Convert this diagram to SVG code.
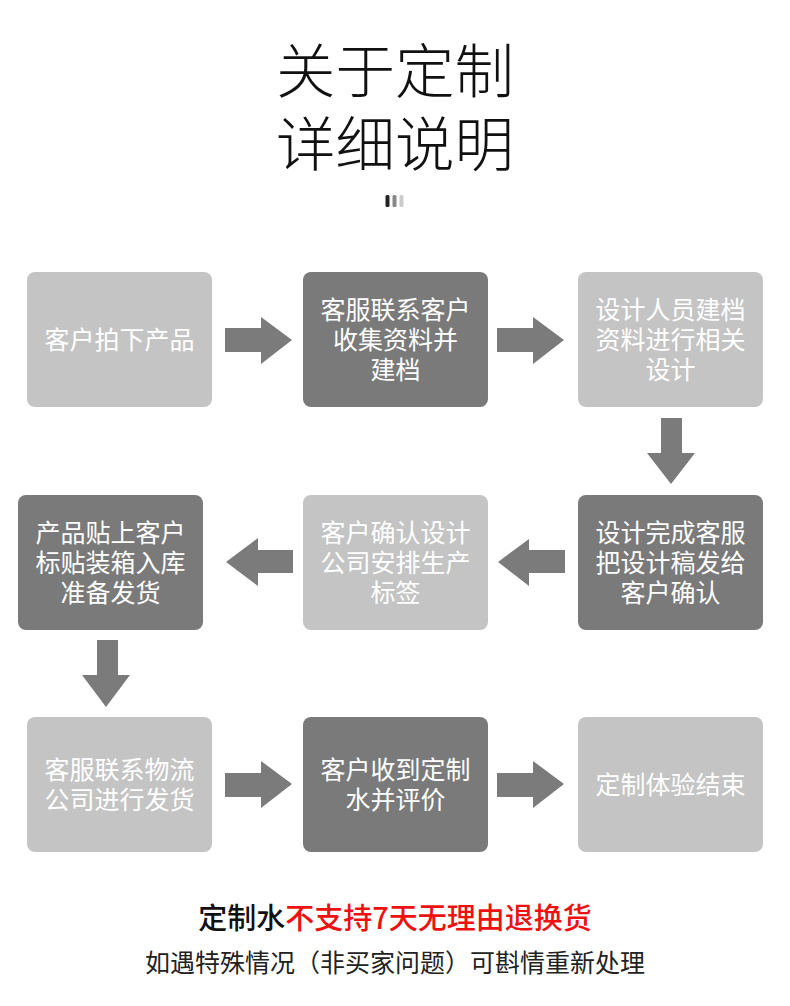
<svg xmlns="http://www.w3.org/2000/svg" width="790" height="1006" viewBox="0 0 790 1006">
<style>
.light{fill:#c4c4c4}
.dark{fill:#7a7a7a}
.arr{fill:#7b7b7b}
.t{font-family:"Noto Sans CJK SC","Noto Sans",sans-serif;font-size:25px;fill:#ffffff;text-anchor:middle}
.title{font-family:"Noto Sans CJK SC","Noto Sans",sans-serif;font-size:59.5px;font-weight:300;fill:#111111;text-anchor:middle}
</style>
<rect width="790" height="1006" fill="#ffffff"/>
<g id="title">
<text class="title" x="395" y="93">关于定制</text>
<text class="title" x="395" y="166">详细说明</text>
<rect x="385.5" y="195" width="4" height="12" rx="1.5" fill="#222222"/>
<rect x="392.5" y="195" width="4" height="12" rx="1.5" fill="#888888"/>
<rect x="399.5" y="195" width="4" height="12" rx="1.5" fill="#cccccc"/>
</g>
<g id="n1"><rect class="light" x="27" y="272" width="185" height="135" rx="8"/><text class="t" x="119.5" y="349">客户拍下产品</text></g>
<g id="n2"><rect class="dark" x="303" y="272" width="185" height="135" rx="8"/><text class="t" x="395.5" y="319">客服联系客户</text><text class="t" x="395.5" y="349">收集资料并</text><text class="t" x="395.5" y="379">建档</text></g>
<g id="n3"><rect class="light" x="578" y="272" width="185" height="135" rx="8"/><text class="t" x="670.5" y="319">设计人员建档</text><text class="t" x="670.5" y="349">资料进行相关</text><text class="t" x="670.5" y="379">设计</text></g>
<g id="n4"><rect class="dark" x="578" y="495" width="185" height="135" rx="8"/><text class="t" x="670.5" y="542">设计完成客服</text><text class="t" x="670.5" y="572">把设计稿发给</text><text class="t" x="670.5" y="602">客户确认</text></g>
<g id="n5"><rect class="light" x="303" y="495" width="185" height="135" rx="8"/><text class="t" x="395.5" y="542">客户确认设计</text><text class="t" x="395.5" y="572">公司安排生产</text><text class="t" x="395.5" y="602">标签</text></g>
<g id="n6"><rect class="dark" x="18" y="495" width="185" height="135" rx="8"/><text class="t" x="110.5" y="542">产品贴上客户</text><text class="t" x="110.5" y="572">标贴装箱入库</text><text class="t" x="110.5" y="602">准备发货</text></g>
<g id="n7"><rect class="light" x="27" y="717" width="185" height="135" rx="8"/><text class="t" x="119.5" y="779">客服联系物流</text><text class="t" x="119.5" y="809">公司进行发货</text></g>
<g id="n8"><rect class="dark" x="303" y="717" width="185" height="135" rx="8"/><text class="t" x="395.5" y="779">客户收到定制</text><text class="t" x="395.5" y="809">水并评价</text></g>
<g id="n9"><rect class="light" x="578" y="717" width="185" height="135" rx="8"/><text class="t" x="670.5" y="794">定制体验结束</text></g>
<g id="connectors">
<polygon class="arr" points="225,328 261,328 261,317 292,340 261,364 261,352 225,352"/>
<polygon class="arr" points="497,328 533,328 533,317 564,340 533,364 533,352 497,352"/>
<polygon class="arr" points="661,418 682,418 682,453 695,453 671,484 647,453 661,453"/>
<polygon class="arr" points="565,550 529,550 529,539 498,562 529,586 529,573 565,573"/>
<polygon class="arr" points="293,550 258,550 258,538 226,562 258,586 258,573 293,573"/>
<polygon class="arr" points="97,640 118,640 118,675 130,675 106,707 82,675 97,675"/>
<polygon class="arr" points="225,773 261,773 261,761 292,784 261,808 261,797 225,797"/>
<polygon class="arr" points="497,773 533,773 533,761 564,784 533,808 533,797 497,797"/>
</g>
<g id="footer">
<text x="395" y="929" font-family="'Noto Sans CJK SC','Noto Sans',sans-serif" font-size="29" font-weight="500" text-anchor="middle"><tspan fill="#111111">定制水</tspan><tspan fill="#ee1111">不支持7天无理由退换货</tspan></text>
<text x="395" y="972" font-family="'Noto Sans CJK SC','Noto Sans',sans-serif" font-size="25" fill="#222222" text-anchor="middle">如遇特殊情况（非买家问题）可斟情重新处理</text>
</g>
</svg>
